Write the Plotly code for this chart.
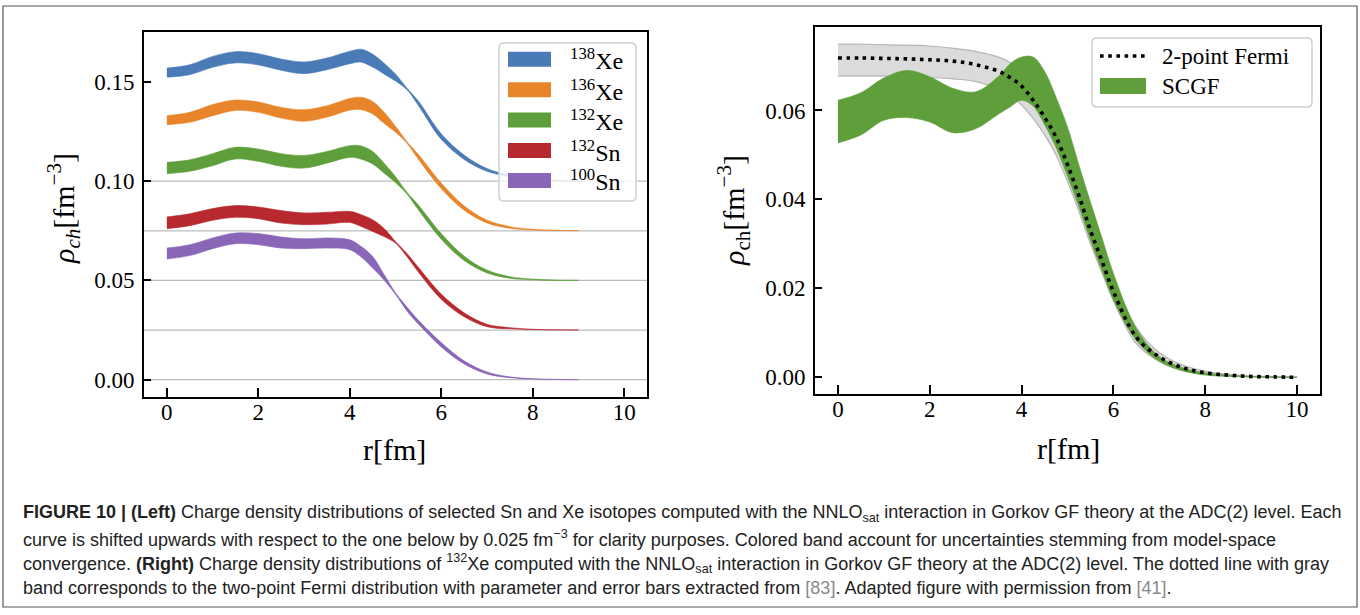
import plotly.graph_objects as go

W, H = 1360, 615

# ---------------- Left panel data (unshifted densities, fm^-3) ----------------
r_left = [0, 0.5, 1.0, 1.5, 2.0, 2.5, 3.0, 3.5, 4.0, 4.25, 4.5, 4.75, 5.0, 5.25, 5.5, 6.0, 6.5, 7.0, 7.5, 8.0, 8.5, 9.0]

isotope_labels = ["<sup>138</sup>Xe", "<sup>136</sup>Xe", "<sup>132</sup>Xe", "<sup>132</sup>Sn", "<sup>100</sup>Sn"]
shifts = [0.100, 0.075, 0.050, 0.025, 0.000]
iso_colors = ["#4a7bb7", "#e8842a", "#5e9f3b", "#b8292f", "#8a66b8"]

xe138_hi = [0.0570, 0.0587, 0.0629, 0.0653, 0.0643, 0.0616, 0.0601, 0.0621, 0.0655, 0.0665, 0.0640, 0.0595, 0.0540, 0.0469, 0.0404, 0.0239, 0.0132, 0.0064, 0.0031, 0.0012, 0.0004, 0.0001]
xe138_lo = [0.0524, 0.0537, 0.0574, 0.0596, 0.0586, 0.0559, 0.0542, 0.0562, 0.0592, 0.0600, 0.0575, 0.0540, 0.0505, 0.0461, 0.0382, 0.0211, 0.0110, 0.0050, 0.0023, 0.0008, 0.0002, 0.0001]

xe136_hi = [0.0580, 0.0597, 0.0636, 0.0659, 0.0649, 0.0622, 0.0610, 0.0630, 0.0667, 0.0673, 0.0652, 0.0598, 0.0527, 0.0449, 0.0385, 0.0241, 0.0126, 0.0054, 0.0021, 0.0008, 0.0003, 0.0001]
xe136_lo = [0.0535, 0.0547, 0.0580, 0.0607, 0.0597, 0.0568, 0.0552, 0.0573, 0.0608, 0.0610, 0.0589, 0.0542, 0.0497, 0.0441, 0.0361, 0.0213, 0.0104, 0.0040, 0.0013, 0.0004, 0.0001, 0.0001]

xe132_hi = [0.0595, 0.0608, 0.0639, 0.0671, 0.0662, 0.0639, 0.0630, 0.0650, 0.0679, 0.0678, 0.0650, 0.0591, 0.0523, 0.0444, 0.0380, 0.0236, 0.0123, 0.0052, 0.0019, 0.0007, 0.0002, 0.0001]
xe132_lo = [0.0538, 0.0550, 0.0578, 0.0612, 0.0600, 0.0575, 0.0566, 0.0591, 0.0620, 0.0611, 0.0587, 0.0541, 0.0493, 0.0436, 0.0356, 0.0208, 0.0101, 0.0038, 0.0011, 0.0003, 0.0000, 0.0000]

sn132_hi = [0.0570, 0.0586, 0.0612, 0.0627, 0.0620, 0.0602, 0.0590, 0.0593, 0.0598, 0.0581, 0.0556, 0.0512, 0.0446, 0.0386, 0.0316, 0.0181, 0.0087, 0.0029, 0.0012, 0.0004, 0.0001, 0.0000]
sn132_lo = [0.0511, 0.0526, 0.0553, 0.0568, 0.0561, 0.0539, 0.0531, 0.0534, 0.0542, 0.0522, 0.0497, 0.0471, 0.0438, 0.0370, 0.0292, 0.0155, 0.0067, 0.0017, 0.0006, 0.0002, 0.0001, 0.0000]

sn100_hi = [0.0663, 0.0680, 0.0714, 0.0739, 0.0736, 0.0719, 0.0710, 0.0714, 0.0705, 0.0671, 0.0621, 0.0530, 0.0438, 0.0366, 0.0300, 0.0187, 0.0095, 0.0039, 0.0014, 0.0005, 0.0001, 0.0000]
sn100_lo = [0.0608, 0.0625, 0.0660, 0.0685, 0.0680, 0.0663, 0.0660, 0.0663, 0.0655, 0.0618, 0.0562, 0.0502, 0.0430, 0.0346, 0.0280, 0.0165, 0.0079, 0.0029, 0.0010, 0.0003, 0.0001, 0.0000]

bands_hi = [xe138_hi, xe136_hi, xe132_hi, sn132_hi, sn100_hi]
bands_lo = [xe138_lo, xe136_lo, xe132_lo, sn132_lo, sn100_lo]

# ---------------- Right panel data (132Xe) ----------------
r_right = [0, 0.5, 1.0, 1.5, 2.0, 2.5, 3.0, 3.5, 3.75, 4.0, 4.25, 4.5, 4.75, 5.0, 5.25, 5.5, 5.75, 6.0, 6.5, 7.0, 7.5, 8.0, 8.5, 9.0, 9.5, 10.0]

scgf_hi = [0.0623, 0.0640, 0.0673, 0.0690, 0.0676, 0.0650, 0.0642, 0.0677, 0.0705, 0.0720, 0.0720, 0.0688, 0.0630, 0.0563, 0.0477, 0.0394, 0.0314, 0.0234, 0.0110, 0.0047, 0.0022, 0.0010, 0.0005, 0.0002, 0.0001, 0.0000]
scgf_lo = [0.0527, 0.0545, 0.0578, 0.0584, 0.0574, 0.0550, 0.0559, 0.0592, 0.0608, 0.0623, 0.0610, 0.0568, 0.0517, 0.0452, 0.0383, 0.0308, 0.0240, 0.0174, 0.0083, 0.0036, 0.0015, 0.0005, 0.0002, 0.0001, 0.0000, 0.0000]

fermi_mid = [0.0718, 0.0718, 0.0717, 0.0716, 0.0714, 0.0711, 0.0703, 0.0688, 0.0674, 0.0655, 0.0623, 0.0585, 0.0540, 0.0478, 0.0408, 0.0330, 0.0262, 0.0193, 0.0090, 0.0046, 0.0022, 0.0010, 0.0005, 0.0002, 0.0001, 0.0000]
fermi_hi = [0.0749, 0.0749, 0.0748, 0.0747, 0.0745, 0.0740, 0.0733, 0.0720, 0.0708, 0.0690, 0.0660, 0.0622, 0.0575, 0.0512, 0.0440, 0.0363, 0.0292, 0.0222, 0.0112, 0.0056, 0.0028, 0.0014, 0.0007, 0.0003, 0.0002, 0.0001]
fermi_lo = [0.0677, 0.0677, 0.0677, 0.0676, 0.0674, 0.0671, 0.0665, 0.0648, 0.0635, 0.0612, 0.0582, 0.0545, 0.0500, 0.0440, 0.0372, 0.0300, 0.0235, 0.0172, 0.0075, 0.0035, 0.0015, 0.0007, 0.0003, 0.0001, 0.0000, 0.0000]

right_labels = ["2-point Fermi", "SCGF"]
scgf_color = "#5e9f3b"

x_ticks = [0, 2, 4, 6, 8, 10]
left_yticks = [0.0, 0.05, 0.10, 0.15]
right_yticks = [0.0, 0.02, 0.04, 0.06]

SERIF = "Liberation Serif, Times New Roman, serif"
CAP = "Liberation Sans Narrow, Arial Narrow, Liberation Sans, sans-serif"

def px(x):
    return x / W

def py(y):
    return 1 - y / H

fig = go.Figure()

# left bands
for lab, off, col, hi, lo in zip(isotope_labels, shifts, iso_colors, bands_hi, bands_lo):
    fig.add_trace(go.Scatter(x=r_left, y=[v + off for v in lo], mode="lines",
                             line=dict(color=col, width=0.6, shape="spline", smoothing=1.0),
                             showlegend=False, hoverinfo="skip", xaxis="x", yaxis="y"))
    fig.add_trace(go.Scatter(x=r_left, y=[v + off for v in hi], mode="lines", fill="tonexty",
                             fillcolor=col, name=lab,
                             line=dict(color=col, width=0.6, shape="spline", smoothing=1.0),
                             showlegend=False, hoverinfo="skip", xaxis="x", yaxis="y"))

# right: 2pF gray band
gray_line = "rgba(140,140,140,0.55)"
fig.add_trace(go.Scatter(x=r_right, y=fermi_lo, mode="lines",
                         line=dict(color=gray_line, width=1.2, shape="spline"),
                         showlegend=False, hoverinfo="skip", xaxis="x2", yaxis="y2"))
fig.add_trace(go.Scatter(x=r_right, y=fermi_hi, mode="lines", fill="tonexty",
                         fillcolor="rgba(160,160,160,0.38)",
                         line=dict(color=gray_line, width=1.2, shape="spline"),
                         showlegend=False, hoverinfo="skip", xaxis="x2", yaxis="y2"))
# SCGF band
fig.add_trace(go.Scatter(x=r_right, y=scgf_lo, mode="lines",
                         line=dict(color=scgf_color, width=0.6, shape="spline"),
                         showlegend=False, hoverinfo="skip", xaxis="x2", yaxis="y2"))
fig.add_trace(go.Scatter(x=r_right, y=scgf_hi, mode="lines", fill="tonexty",
                         fillcolor=scgf_color, name=right_labels[1],
                         line=dict(color=scgf_color, width=0.6, shape="spline"),
                         showlegend=False, hoverinfo="skip", xaxis="x2", yaxis="y2"))
# dotted 2pF
fig.add_trace(go.Scatter(x=r_right, y=fermi_mid, mode="lines", name=right_labels[0],
                         line=dict(color="black", width=3.6, dash="3.6px,4.6px", shape="spline"),
                         showlegend=False, hoverinfo="skip", xaxis="x2", yaxis="y2"))

shapes = []
for off in shifts:
    shapes.append(dict(type="line", xref="x domain", yref="y", x0=0, x1=1, y0=off, y1=off,
                       line=dict(color="#bdbdbd", width=1.3), layer="below"))

def rrect(x0, y0, x1, y1, rad=5):
    # pixel coords (top-left origin) -> rounded rect path in paper coords
    rx, ry = rad / W, rad / H
    X0, X1 = px(x0), px(x1)
    Yt, Yb = py(y0), py(y1)
    return (f"M {X0+rx},{Yt} L {X1-rx},{Yt} Q {X1},{Yt} {X1},{Yt-ry} "
            f"L {X1},{Yb+ry} Q {X1},{Yb} {X1-rx},{Yb} L {X0+rx},{Yb} "
            f"Q {X0},{Yb} {X0},{Yb+ry} L {X0},{Yt-ry} Q {X0},{Yt} {X0+rx},{Yt} Z")

# left legend
shapes.append(dict(type="path", xref="paper", yref="paper", path=rrect(499, 43, 636, 201),
                   line=dict(color="#cfcfcf", width=1.5), fillcolor="rgba(255,255,255,0.8)", layer="above"))
leg_y = [59.2, 89.7, 120.0, 150.5, 180.5]
annotations = []
for yy, col, lab in zip(leg_y, iso_colors, isotope_labels):
    shapes.append(dict(type="rect", xref="paper", yref="paper", x0=px(508), x1=px(551),
                       y0=py(yy + 7.5), y1=py(yy - 7.5), fillcolor=col, line=dict(width=0), layer="above"))
    annotations.append(dict(xref="paper", yref="paper", x=px(568), y=py(yy), xanchor="left", yanchor="middle",
                            text=lab, showarrow=False, font=dict(family=SERIF, size=24, color="black")))

# right legend
shapes.append(dict(type="path", xref="paper", yref="paper", path=rrect(1092, 38, 1312, 107),
                   line=dict(color="#cfcfcf", width=1.5), fillcolor="rgba(255,255,255,0.8)", layer="above"))
shapes.append(dict(type="line", xref="paper", yref="paper", x0=px(1100), x1=px(1146), y0=py(56), y1=py(56),
                   line=dict(color="black", width=3.6, dash="3.6px,4.6px"), layer="above"))
shapes.append(dict(type="rect", xref="paper", yref="paper", x0=px(1100), x1=px(1146), y0=py(94), y1=py(78),
                   fillcolor=scgf_color, line=dict(width=0), layer="above"))
for yy, lab in zip([56, 86], right_labels):
    annotations.append(dict(xref="paper", yref="paper", x=px(1160), y=py(yy), xanchor="left", yanchor="middle",
                            text=lab, showarrow=False, font=dict(family=SERIF, size=23, color="black")))

# axis titles
annotations += [
    dict(xref="paper", yref="paper", x=px(394), y=py(449), xanchor="center", yanchor="middle",
         text="r[fm]", showarrow=False, font=dict(family=SERIF, size=30, color="black")),
    dict(xref="paper", yref="paper", x=px(1068), y=py(448), xanchor="center", yanchor="middle",
         text="r[fm]", showarrow=False, font=dict(family=SERIF, size=30, color="black")),
    dict(xref="paper", yref="paper", x=px(63), y=py(209), xanchor="center", yanchor="middle",
         textangle=-90, showarrow=False,
         text="<i>ρ</i><sub><i>ch</i></sub>[fm<sup>−3</sup>]", font=dict(family=SERIF, size=30, color="black")),
    dict(xref="paper", yref="paper", x=px(734), y=py(211), xanchor="center", yanchor="middle",
         textangle=-90, showarrow=False,
         text="<i>ρ</i><sub>ch</sub>[fm<sup>−3</sup>]", font=dict(family=SERIF, size=30, color="black")),
]

caption_lines = [
    "<b>FIGURE 10 | (Left)</b> Charge density distributions of selected Sn and Xe isotopes computed with the NNLO<sub>sat</sub> interaction in Gorkov GF theory at the ADC(2) level. Each",
    "curve is shifted upwards with respect to the one below by 0.025 fm<sup>−3</sup> for clarity purposes. Colored band account for uncertainties stemming from model-space",
    "convergence. <b>(Right)</b> Charge density distributions of <sup>132</sup>Xe computed with the NNLO<sub>sat</sub> interaction in Gorkov GF theory at the ADC(2) level. The dotted line with gray",
    "band corresponds to the two-point Fermi distribution with parameter and error bars extracted from <span style='color:#8a8a8a'>[83]</span>. Adapted figure with permission from <span style='color:#8a8a8a'>[41]</span>.",
]
for yy, line in zip([513, 538, 563, 588], caption_lines):
    annotations.append(dict(xref="paper", yref="paper", x=px(21), y=py(yy), xanchor="left", yanchor="middle",
                            text=line, showarrow=False, font=dict(family=CAP, size=18, color="#222222")))

# outer frame
shapes.append(dict(type="rect", xref="paper", yref="paper", x0=px(3), x1=px(1357), y0=py(607), y1=py(6),
                   line=dict(color="#555555", width=1.2), layer="below"))

axis_common = dict(showline=True, linecolor="black", linewidth=1.6, mirror=True, ticks="inside",
                   tickcolor="black", tickwidth=1.5, showgrid=False, zeroline=False,
                   tickfont=dict(family=SERIF, size=23, color="black"))

fig.update_layout(
    width=W, height=H, margin=dict(l=0, r=0, t=0, b=0),
    paper_bgcolor="white", plot_bgcolor="white", showlegend=False,
    shapes=shapes, annotations=annotations,
    xaxis=dict(domain=[px(144), px(647)], range=[-0.5, 10.5], tickvals=x_ticks, ticklen=9,
               ticklabelstandoff=-6, anchor="y", **axis_common),
    yaxis=dict(domain=[py(396.7), py(32)], range=[-0.0086, 0.1752], tickvals=left_yticks,
               ticktext=[f"{v:.2f}" for v in left_yticks], ticklen=7, ticklabelstandoff=3,
               anchor="x", **axis_common),
    xaxis2=dict(domain=[px(815), px(1320)], range=[-0.5, 10.5], tickvals=x_ticks, ticklen=9,
                ticklabelstandoff=-6, anchor="y2", **axis_common),
    yaxis2=dict(domain=[py(394), py(27.3)], range=[-0.00375, 0.0787], tickvals=right_yticks,
                ticktext=[f"{v:.2f}" for v in right_yticks], ticklen=7, ticklabelstandoff=3,
                anchor="x2", **axis_common),
)

fig.write_html("out.html", config={"displayModeBar": False},
               post_script="document.body.style.margin='0';document.body.style.overflow='hidden';")
